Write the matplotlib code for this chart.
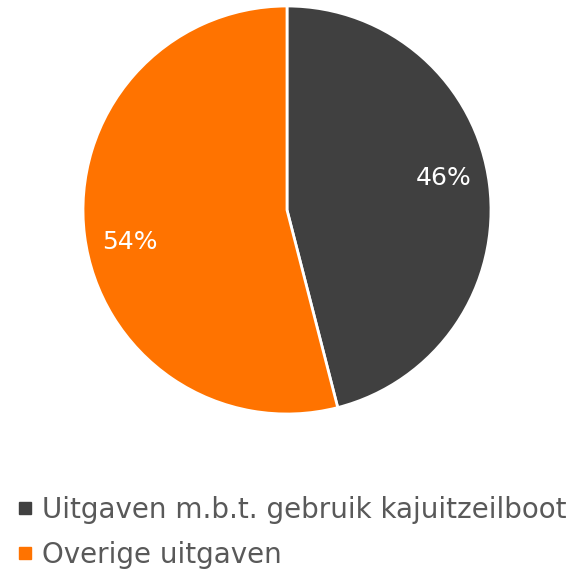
import matplotlib
matplotlib.use("Agg")
import matplotlib.pyplot as plt
import numpy as np
from matplotlib.lines import Line2D

categories = ["Uitgaven m.b.t. gebruik kajuitzeilboot", "Overige uitgaven"]
values = [46, 54]
colors = ["#404040", "#FF7300"]

plt.rcParams['font.family'] = ['DejaVu Sans']

fig = plt.figure(figsize=(5.72, 5.72), dpi=100)
ax = fig.add_axes([83/572, 1-414/572, 408/572, 408/572])
wedges, texts, autotexts = ax.pie(values, colors=colors, startangle=90, counterclock=False,
                                  autopct='%1.0f%%', pctdistance=0.78,
                                  wedgeprops=dict(edgecolor='white', linewidth=2),
                                  textprops=dict(color='white', fontsize=18))
for w, t in zip(wedges, autotexts):
    mid = np.deg2rad((w.theta1 + w.theta2) / 2 + 4.5)
    t.set_position((0.785 * np.cos(mid), 0.785 * np.sin(mid)))
ax.set_xlim(-1.0, 1.0)
ax.set_ylim(-1.0, 1.0)
ax.set_aspect('equal')

handles = [Line2D([0], [0], marker='s', linestyle='none', markersize=9,
                  markerfacecolor=c, markeredgecolor=c) for c in colors]
leg = fig.legend(handles, categories, loc='upper left', bbox_to_anchor=(0/572, 1-485/572),
                 frameon=False, fontsize=20, handletextpad=0.1, labelspacing=0.6,
                 handlelength=1.0, borderaxespad=0)
for t in leg.get_texts():
    t.set_color('#595959')

fig.savefig("out.png", dpi=100)
